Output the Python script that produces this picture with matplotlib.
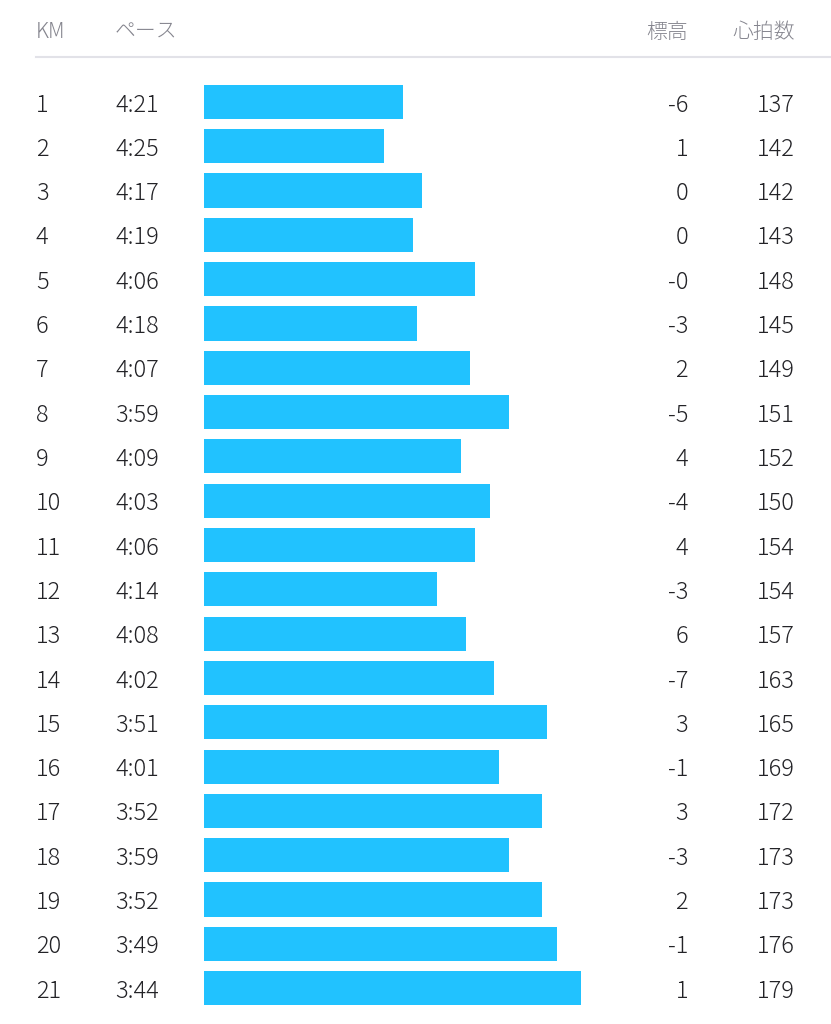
import matplotlib.pyplot as plt

plt.rcParams['font.family'] = ['Noto Sans CJK JP', 'DejaVu Sans']

# splits
km = list(range(1, 22))
pace = ['4:21', '4:25', '4:17', '4:19', '4:06', '4:18', '4:07', '3:59', '4:09', '4:03', '4:06',
        '4:14', '4:08', '4:02', '3:51', '4:01', '3:52', '3:59', '3:52', '3:49', '3:44']
elev = ['-6', '1', '0', '0', '-0', '-3', '2', '-5', '4', '-4', '4',
        '-3', '6', '-7', '3', '-1', '3', '-3', '2', '-1', '1']
hr = [137, 142, 142, 143, 148, 145, 149, 151, 152, 150, 154,
      154, 157, 163, 165, 169, 172, 173, 173, 176, 179]
headers = ['KM', 'ペース', '標高', '心拍数']

pace_sec = [int(p.split(':')[0]) * 60 + int(p.split(':')[1]) for p in pace]
base = 302.4  # pace (s) where a bar would have zero length

W, H = 831, 1024
fig = plt.figure(figsize=(W / 100, H / 100), dpi=100)
ax = fig.add_axes([0, 0, 1, 1])
ax.set_xlim(0, W)
ax.set_ylim(21.81, -1.30)
ax.axis('off')

# bars on a twin x axis in pace seconds (faster = longer)
ax2 = ax.twiny()
ax2.set_xlim(344.8, 172.0)
ax2.axis('off')
ax2.barh(km, [base - s for s in pace_sec], left=pace_sec, height=0.77, color='#21c2ff')

hdr_col = '#85858e'
txt_col = '#232327'
fs = 17
dy = 0.07  # nudge text to optical centre
hy = -0.58
ax.text(36, hy, headers[0], fontsize=15, color=hdr_col, va='center', ha='left', weight='light')
ax.text(115, hy, headers[1], fontsize=15, color=hdr_col, va='center', ha='left', weight='light')
ax.text(688, hy, headers[2], fontsize=15, color=hdr_col, va='center', ha='right', weight='light')
ax.text(795, hy, headers[3], fontsize=15, color=hdr_col, va='center', ha='right', weight='light')
ax.plot([36, W], [-0.016, -0.016], color='#e2e2e8', lw=1.5)

for i, k in enumerate(km):
    y = k + dy
    ax.text(36, y, str(k), fontsize=fs, color=txt_col, va='center', ha='left', weight='light')
    ax.text(115, y, pace[i], fontsize=fs, color=txt_col, va='center', ha='left', weight='light')
    ax.text(688, y, elev[i], fontsize=fs, color=txt_col, va='center', ha='right', weight='light')
    ax.text(795, y, str(hr[i]), fontsize=fs, color=txt_col, va='center', ha='right', weight='light')

fig.savefig('out.png', dpi=100)
